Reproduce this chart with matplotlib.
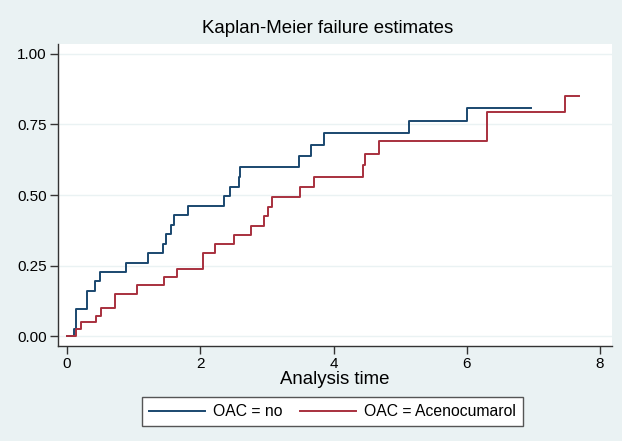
import numpy as np
from matplotlib import pyplot as plt

# failure estimates (time, cumulative failure)
no_time = [0, 0.105, 0.135, 0.305, 0.425, 0.495, 0.88, 1.21, 1.446, 1.487,
           1.566, 1.6, 1.82, 2.36, 2.44, 2.575, 2.6, 3.48, 3.66, 3.85, 5.14, 6.0]
no_fail = [0, 0.027, 0.095, 0.16, 0.195, 0.227, 0.258, 0.293, 0.325, 0.362,
           0.394, 0.429, 0.462, 0.496, 0.53, 0.564, 0.598, 0.638, 0.678, 0.721, 0.763, 0.81]
no_end = 6.96

aceno_time = [0, 0.135, 0.215, 0.43, 0.505, 0.72, 1.056, 1.461, 1.656, 2.047,
              2.22, 2.5, 2.76, 2.95, 3.02, 3.07, 3.5, 3.71, 4.44, 4.47, 4.69, 6.31, 7.48]
aceno_fail = [0, 0.024, 0.051, 0.071, 0.098, 0.151, 0.181, 0.208, 0.237, 0.295,
              0.326, 0.36, 0.391, 0.426, 0.459, 0.493, 0.53, 0.565, 0.605, 0.644, 0.691, 0.795, 0.849]
aceno_end = 7.68

x_ticks = [0, 2, 4, 6, 8]
y_ticks = [0, 0.25, 0.5, 0.75, 1.0]
y_labels = ["0.00", "0.25", "0.50", "0.75", "1.00"]

NAVY = "#1a476f"
MAROON = "#a8303e"
BG = "#eaf2f3"

plt.rcParams["font.family"] = ["Liberation Sans", "DejaVu Sans"]

fig = plt.figure(figsize=(6.22, 4.41), dpi=100, facecolor=BG)
ax = fig.add_axes([58 / 622, 1 - 346 / 441, (612 - 58) / 622, (346 - 44) / 441])
ax.set_facecolor("white")

ax.step(no_time + [no_end], no_fail + [no_fail[-1]], where="post",
        color=NAVY, lw=1.4, label="OAC = no")
ax.step(aceno_time + [aceno_end], aceno_fail + [aceno_fail[-1]], where="post",
        color=MAROON, lw=1.4, label="OAC = Acenocumarol")

ax.set_xlim(-0.135, 8.18)
ax.set_ylim(-0.035, 1.035)
ax.set_xticks(x_ticks)
ax.set_yticks(y_ticks)
ax.set_yticklabels(y_labels)
ax.grid(axis="y", color=BG, lw=1)
ax.set_axisbelow(True)

for side in ["top", "right"]:
    ax.spines[side].set_visible(False)
for side in ["left", "bottom"]:
    ax.spines[side].set_color("#333333")
    ax.spines[side].set_linewidth(1)
ax.tick_params(length=6, width=1, color="#333333", labelsize=11, pad=2)

ax.set_title("Kaplan-Meier failure estimates", fontsize=13.4, pad=8,
             x=(328 - 58) / 554)
ax.set_xlabel("Analysis time", fontsize=13.4, labelpad=0)

leg = ax.legend(ncol=2, loc="center", bbox_to_anchor=(332.5 / 622, 1 - 411.5 / 441),
                bbox_transform=fig.transFigure, fontsize=11.3, frameon=True,
                fancybox=False, edgecolor="#555555", framealpha=1,
                handlelength=3.6, handletextpad=0.5, columnspacing=1.1,
                borderpad=0.45)
leg.get_frame().set_linewidth(1)

fig.savefig("out.png", dpi=100, facecolor=BG)
